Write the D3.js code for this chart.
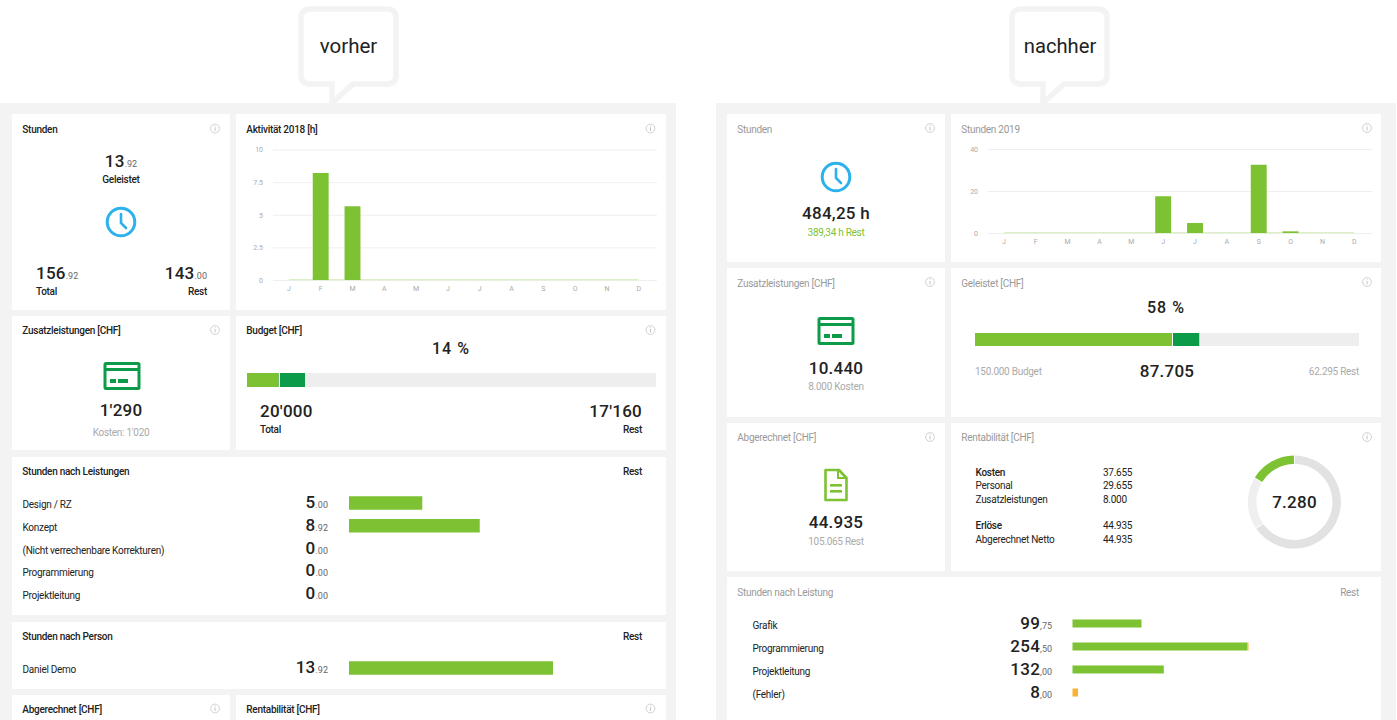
<!DOCTYPE html>
<html>
<head>
<meta charset="utf-8">
<script src="https://cdn.jsdelivr.net/npm/d3@7"></script>
<style>
  html, body { margin: 0; padding: 0; background: #fff; overflow: hidden; }
  text { font-family: Roboto, sans-serif; fill: #222; }
  .title { font-size: 10px; font-weight: 500; letter-spacing: -0.27px; }
  .titleGrey { font-size: 10px; fill: #999; letter-spacing: -0.27px; }
  .tick text { font-size: 7px; fill: #aaa; font-family: Roboto, sans-serif; }
</style>
</head>
<body>
<svg id="chart" width="1397" height="720"></svg>
<script>
// monthly hours
var months = ["J", "F", "M", "A", "M", "J", "J", "A", "S", "O", "N", "D"];
var hoursBefore = [0, 8.2, 5.65, 0, 0, 0, 0, 0, 0, 0, 0, 0];
var hoursAfter = [0, 0, 0, 0, 0, 17.5, 4.75, 0, 32.5, 0.8, 0, 0];
var ticksBefore = [0, 2.5, 5, 7.5, 10];
var ticksAfter = [0, 20, 40];

// horizontal bar lists
var leistungenBefore = ["Design / RZ", "Konzept", "(Nicht verrechenbare Korrekturen)", "Programmierung", "Projektleitung"];
var leistungenBeforeInt = ["5", "8", "0", "0", "0"];
var leistungenBeforeDec = [".00", ".92", ".00", ".00", ".00"];
var leistungenBeforeVal = [5, 8.92, 0, 0, 0];

var personen = ["Daniel Demo"];
var personenInt = ["13"];
var personenDec = [".92"];
var personenVal = [13.92];

var leistungenAfter = ["Grafik", "Programmierung", "Projektleitung", "(Fehler)"];
var leistungenAfterInt = ["99", "254", "132", "8"];
var leistungenAfterDec = [",75", ",50", ",00", ",00"];
var leistungenAfterVal = [99.75, 253, 132, 0];
var leistungenAfterOver = [0, 1.5, 0, 8];

// budget bars
var budgetBefore = [1550, 1290, 17160];
var budgetAfter = [77265, 10440, 62295];

// rentabilitaet
var rentLabels = ["Kosten", "Personal", "Zusatzleistungen", "Erlöse", "Abgerechnet Netto"];
var rentValues = ["37.655", "29.655", "8.000", "44.935", "44.935"];
var donutValues = [29500, 8155, 7280];

var GREEN = "#7dc232", DARK = "#0c9b48", BLUE = "#2cb1ec", ORANGE = "#fbb131", BG = "#f3f3f3";
var SMALL = 10, SMALL_SPACING = "-0.27px", NUM = 17, NUM_SPACING = "0.25px";

var svg = d3.select("#chart");

function rect(x, y, w, h, fill) {
  return svg.append("rect").attr("x", x).attr("y", y).attr("width", w).attr("height", h).attr("fill", fill);
}

function label(x, y, str, size, opts) {
  opts = opts || {};
  return svg.append("text").attr("x", x).attr("y", y).text(str)
    .style("font-size", size + "px")
    .style("font-weight", opts.weight || 400)
    .style("fill", opts.fill || "#222")
    .style("letter-spacing", opts.spacing || (size === SMALL ? SMALL_SPACING : null))
    .attr("text-anchor", opts.anchor || "start");
}

// big number with the small decimals after it
function amount(x, y, big, small, size, anchor) {
  var t = svg.append("text").attr("x", x).attr("y", y).attr("text-anchor", anchor || "end");
  t.append("tspan").text(big).style("font-size", size + "px").style("font-weight", 500).style("letter-spacing", NUM_SPACING);
  t.append("tspan").text(small).style("font-size", "9px").style("fill", "#666");
}

function card(x, y, w, h, title, grey, titleY) {
  rect(x, y, w, h, "#fff");
  svg.append("text").attr("class", grey ? "titleGrey" : "title").attr("x", x + 10.3).attr("y", titleY).text(title);
}

function info(x, y) {
  svg.append("circle").attr("cx", x).attr("cy", y).attr("r", 4.4).attr("fill", "none").attr("stroke", "#ccc").attr("stroke-width", 0.9);
  rect(x - 0.4, y - 1, 0.9, 3.4, "#bbb");
  rect(x - 0.4, y - 2.8, 0.9, 0.9, "#bbb");
}

function bubble(x0, x1, tipX) {
  var top = 9, bottom = 84, r = 9;
  var p = "M" + (x0 + r) + "," + top + "H" + (x1 - r) + "Q" + x1 + "," + top + " " + x1 + "," + (top + r) +
    "V" + (bottom - r) + "Q" + x1 + "," + bottom + " " + (x1 - r) + "," + bottom +
    "H" + (tipX + 23) + "L" + (tipX + 2) + ",103V" + bottom + "H" + (x0 + r) +
    "Q" + x0 + "," + bottom + " " + x0 + "," + (bottom - r) + "V" + (top + r) + "Q" + x0 + "," + top + " " + (x0 + r) + "," + top + "Z";
  svg.append("path").attr("d", p).attr("fill", "#fff").attr("stroke", BG).attr("stroke-width", 5.5);
}

function clock(cx, cy) {
  svg.append("circle").attr("cx", cx).attr("cy", cy).attr("r", 13.8).attr("fill", "none").attr("stroke", BLUE).attr("stroke-width", 3);
  svg.append("path").attr("d", "M" + cx + "," + (cy - 8) + "V" + (cy + 1) + "L" + (cx + 5) + "," + (cy + 6))
    .attr("fill", "none").attr("stroke", BLUE).attr("stroke-width", 2.6).attr("stroke-linecap", "round");
}

function creditCard(cx, cy) {
  svg.append("rect").attr("x", cx - 18.5).attr("y", cy - 14).attr("width", 37).attr("height", 28).attr("rx", 2.5).attr("fill", DARK);
  rect(cx - 15.5, cy - 11, 31, 3, "#fff");
  rect(cx - 15.5, cy - 5, 31, 16, "#fff");
  rect(cx - 12, cy + 3, 6, 4, DARK);
  rect(cx - 4, cy + 3, 10, 4, DARK);
}

function documentIcon(cx, cy) {
  svg.append("path")
    .attr("d", "M" + (cx - 10.5) + "," + (cy - 15) + "H" + (cx + 3) + "L" + (cx + 10.5) + "," + (cy - 7) + "V" + (cy + 15) + "H" + (cx - 10.5) + "Z")
    .attr("fill", "none").attr("stroke", GREEN).attr("stroke-width", 2.6).attr("stroke-linejoin", "round");
  svg.append("path").attr("d", "M" + (cx + 2) + "," + (cy - 15) + "V" + (cy - 7) + "H" + (cx + 10))
    .attr("fill", "none").attr("stroke", GREEN).attr("stroke-width", 2);
  rect(cx - 6, cy - 1, 12, 2.6, GREEN);
  rect(cx - 6, cy + 5, 12, 2.6, GREEN);
}

function monthChart(values, ticks, maxVal, x0, x1, yTop, yBottom, bandLeft, bandRight) {
  var y = d3.scaleLinear().domain([0, maxVal]).range([yBottom, yTop]);
  var x = d3.scaleBand().domain(d3.range(months.length)).range([bandLeft, bandRight]).paddingInner(0.5).paddingOuter(0.25);

  var yAxis = d3.axisLeft(y).tickValues(ticks).tickSize(0).tickPadding(10).tickFormat(d3.format(""));
  var gy = svg.append("g").attr("transform", "translate(" + x0 + ",0)").call(yAxis);
  gy.select(".domain").remove();
  gy.selectAll(".tick line").attr("x2", x1 - x0).attr("stroke", "#efefef").attr("stroke-width", 1);

  var xAxis = d3.axisBottom(x).tickSize(0).tickPadding(6).tickFormat(function (i) { return months[i]; });
  var gx = svg.append("g").attr("transform", "translate(0," + yBottom + ")").call(xAxis);
  gx.select(".domain").remove();

  // the thin pale line at zero, from the first month to the last
  var first = x(0) + x.bandwidth() / 2, last = x(months.length - 1) + x.bandwidth() / 2;
  rect(first, yBottom - 1, last - first, 1.4, "#dcefc8");

  svg.append("g").selectAll("rect").data(values).join("rect")
    .attr("x", function (d, i) { return x(i); })
    .attr("y", function (d) { return y(d); })
    .attr("width", x.bandwidth())
    .attr("height", function (d) { return yBottom - y(d); })
    .attr("fill", GREEN);
}

function stackBar(values, colors, x0, x1, y0, h) {
  var x = d3.scaleLinear().domain([0, d3.sum(values)]).range([x0, x1]);
  var run = 0;
  values.forEach(function (v, i) {
    rect(x(run), y0, x(run + v) - x(run), h, colors[i]);
    run += v;
  });
}

function barRows(names, ints, decs, vals, over, o) {
  var x = d3.scaleLinear().domain([0, o.maxVal]).range([o.barX, o.barX + o.maxW]);
  names.forEach(function (n, i) {
    var rowY = o.y0 + i * o.step;
    label(o.labelX, rowY + 4, n, SMALL);
    amount(o.numX, rowY + 4, ints[i], decs[i], NUM);
    if (vals[i] > 0) rect(o.barX, rowY - o.barH / 2 - 1, x(vals[i]) - o.barX, o.barH, GREEN);
    if (over && over[i] > 0) rect(x(vals[i]), rowY - o.barH / 2 - 1, x(vals[i] + over[i]) - x(vals[i]), o.barH, ORANGE);
  });
}

var numOpts = { anchor: "middle", weight: 500, spacing: NUM_SPACING };

// ---------- panels ----------
rect(0, 103, 676, 617, BG);
rect(716, 103, 680, 617, BG);
bubble(301, 396, 330);
bubble(1012, 1107, 1041);
label(348.5, 53, "vorher", 20.5, { anchor: "middle" });
label(1060, 53, "nachher", 20.2, { anchor: "middle" });

// ---------- vorher ----------
card(12, 114, 218, 196, "Stunden", false, 133);
info(215, 128.5);
amount(121, 167, "13", ".92", NUM, "middle");
label(121, 183, "Geleistet", SMALL, { anchor: "middle", weight: 500 });
clock(121, 222);
amount(36, 278.5, "156", ".92", NUM, "start");
label(36, 295, "Total", SMALL, { weight: 500 });
amount(207, 278.5, "143", ".00", NUM, "end");
label(207, 295, "Rest", SMALL, { anchor: "end", weight: 500 });

card(236, 114, 430, 196, "Aktivität 2018 [h]", false, 133);
info(650.5, 128.5);
monthChart(hoursBefore, ticksBefore, 10, 273, 657, 149.5, 280, 273, 654.6);

card(12, 316, 218, 134, "Zusatzleistungen [CHF]", false, 334);
info(215, 330);
creditCard(122, 376);
label(121, 416, "1'290", NUM, numOpts);
label(121, 436, "Kosten: 1'020", SMALL, { anchor: "middle", fill: "#aaa" });

card(236, 316, 430, 134, "Budget [CHF]", false, 334);
info(650.5, 330);
label(451, 354, "14 %", 16, { anchor: "middle", weight: 500, spacing: "1px" });
stackBar(budgetBefore, [GREEN, DARK, "#eee"], 247, 656, 373, 14);
rect(279, 373, 1, 14, "#fff");
label(260, 417, "20'000", NUM, { weight: 500, spacing: NUM_SPACING });
label(260, 433, "Total", SMALL, { weight: 500 });
label(642, 417, "17'160", NUM, { anchor: "end", weight: 500, spacing: NUM_SPACING });
label(642, 433, "Rest", SMALL, { anchor: "end", weight: 500 });

card(12, 457, 654, 158, "Stunden nach Leistungen", false, 475);
label(642, 475, "Rest", SMALL, { anchor: "end", weight: 500 });
barRows(leistungenBefore, leistungenBeforeInt, leistungenBeforeDec, leistungenBeforeVal, null,
  { labelX: 22.5, numX: 328, barX: 349, barH: 13.5, maxVal: 13.92, maxW: 204, y0: 504, step: 22.75 });

card(12, 622, 654, 67, "Stunden nach Person", false, 640);
label(642, 640, "Rest", SMALL, { anchor: "end", weight: 500 });
barRows(personen, personenInt, personenDec, personenVal, null,
  { labelX: 22.5, numX: 328, barX: 349, barH: 13.5, maxVal: 13.92, maxW: 204, y0: 669, step: 22.75 });

card(12, 695, 218, 30, "Abgerechnet [CHF]", false, 713);
info(215, 708.5);
card(236, 695, 430, 30, "Rentabilität [CHF]", false, 713);
info(650.5, 708.5);

// ---------- nachher ----------
card(727, 114, 218, 148, "Stunden", true, 133);
info(930, 128);
clock(836, 177);
label(836, 219, "484,25 h", NUM, numOpts);
label(836, 236, "389,34 h Rest", SMALL, { anchor: "middle", fill: GREEN });

card(951, 114, 430, 148, "Stunden 2019", true, 133);
info(1367, 128);
monthChart(hoursAfter, ticksAfter, 40, 988, 1372, 149, 233, 988, 1370.2);

card(727, 268, 218, 149, "Zusatzleistungen [CHF]", true, 287);
info(930, 282);
creditCard(836, 331);
label(836, 374, "10.440", NUM, numOpts);
label(836, 390, "8.000 Kosten", SMALL, { anchor: "middle", fill: "#aaa" });

card(951, 268, 430, 149, "Geleistet [CHF]", true, 287);
info(1367, 282);
label(1166, 313, "58 %", 16, { anchor: "middle", weight: 500, spacing: "1px" });
stackBar(budgetAfter, [GREEN, DARK, "#eee"], 975, 1359, 333, 13);
rect(1172, 333, 1, 13, "#fff");
label(975, 375, "150.000 Budget", SMALL, { fill: "#aaa" });
label(1167, 377, "87.705", NUM, numOpts);
label(1359, 375, "62.295 Rest", SMALL, { anchor: "end", fill: "#aaa" });

card(727, 423, 218, 148, "Abgerechnet [CHF]", true, 441);
info(930, 437);
documentIcon(836, 485);
label(836, 528, "44.935", NUM, numOpts);
label(836, 545, "105.065 Rest", SMALL, { anchor: "middle", fill: "#aaa" });

card(951, 423, 430, 148, "Rentabilität [CHF]", true, 441);
info(1367, 437);
var rentY = [476, 489, 503, 529, 543];
rentLabels.forEach(function (n, i) {
  var bold = i === 0 || i === 3;
  label(975.5, rentY[i], n, SMALL, { weight: bold ? 500 : 400 });
  label(1103, rentY[i], rentValues[i], SMALL, { weight: 400 });
});

var pie = d3.pie().sort(null).padAngle(0.015)(donutValues);
var arc = d3.arc().innerRadius(38).outerRadius(46.5);
var donutColors = ["#e2e2e2", "#efefef", GREEN];
svg.append("g").attr("transform", "translate(1294.4,502)")
  .selectAll("path").data(pie).join("path")
  .attr("d", arc)
  .attr("fill", function (d, i) { return donutColors[i]; });
label(1294.5, 508, "7.280", NUM, numOpts);

card(727, 577, 654, 150, "Stunden nach Leistung", true, 596);
label(1359, 596, "Rest", SMALL, { anchor: "end", fill: "#999" });
barRows(leistungenAfter, leistungenAfterInt, leistungenAfterDec, leistungenAfterVal, leistungenAfterOver,
  { labelX: 752.5, numX: 1052, barX: 1072.5, barH: 8, maxVal: 254.5, maxW: 176, y0: 624.5, step: 23 });
</script>
</body>
</html>
